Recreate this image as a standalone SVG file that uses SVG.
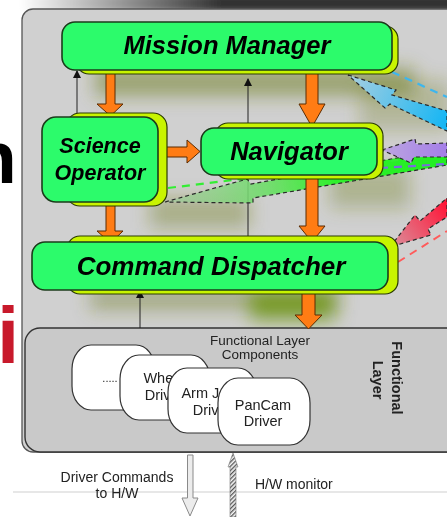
<svg xmlns="http://www.w3.org/2000/svg" width="447" height="517" viewBox="0 0 447 517">
  <style>
    .box{fill:#2cfb6b;stroke:#1b3b1b;stroke-width:1.6}
    .back{fill:#c8f400;stroke:#2a3a00;stroke-width:1.2}
    .lbl{font-family:"Liberation Sans",Arial,sans-serif;font-weight:bold;font-style:italic;fill:#000;text-anchor:middle}
    .flow{fill:#ff7c14;stroke:#5a2a00;stroke-width:1}
    .thin{stroke:#222;stroke-width:1;fill:none}
    .edge{stroke:#2a2a2a;stroke-width:1.2;stroke-dasharray:4 3}
    .card{fill:#fff;stroke:#333;stroke-width:1.2}
    .txt{font-family:"Liberation Sans",Arial,sans-serif;fill:#222}
  </style>
  <defs>
    <marker id="tip" markerWidth="8" markerHeight="8" refX="7" refY="4" orient="auto" markerUnits="userSpaceOnUse">
      <path d="M0,0 L8,4 L0,8 z" fill="#111"/>
    </marker>
    <filter id="haze" x="-50%" y="-50%" width="200%" height="200%">
      <feGaussianBlur stdDeviation="9"/>
    </filter>
    <filter id="soft" x="-20%" y="-50%" width="140%" height="200%">
      <feGaussianBlur stdDeviation="3"/>
    </filter>
    <linearGradient id="topShade" x1="20" y1="0" x2="220" y2="0" gradientUnits="userSpaceOnUse">
      <stop offset="0" stop-color="#ffffff"/>
      <stop offset="1" stop-color="#333333"/>
    </linearGradient>
    <linearGradient id="blueG" x1="348" y1="75" x2="447" y2="120" gradientUnits="userSpaceOnUse">
      <stop offset="0" stop-color="#a9cfe0"/>
      <stop offset="1" stop-color="#16b6f4"/>
    </linearGradient>
    <linearGradient id="purpleG" x1="382" y1="150" x2="447" y2="150" gradientUnits="userSpaceOnUse">
      <stop offset="0" stop-color="#bca6e0"/>
      <stop offset="1" stop-color="#a47ee8"/>
    </linearGradient>
    <linearGradient id="greenG" x1="165" y1="202" x2="447" y2="157" gradientUnits="userSpaceOnUse">
      <stop offset="0" stop-color="#a6c9a0" stop-opacity="0.7"/>
      <stop offset="0.35" stop-color="#6fdc6a" stop-opacity="0.9"/>
      <stop offset="0.6" stop-color="#2ff02c"/>
      <stop offset="1" stop-color="#22ee22"/>
    </linearGradient>
    <linearGradient id="redG" x1="390" y1="247" x2="447" y2="205" gradientUnits="userSpaceOnUse">
      <stop offset="0" stop-color="#d9929e"/>
      <stop offset="1" stop-color="#ff1638"/>
    </linearGradient>
    <pattern id="hatch" width="3" height="3" patternUnits="userSpaceOnUse" patternTransform="rotate(45)">
      <rect width="3" height="3" fill="#f4f4f4"/>
      <rect width="1.3" height="3" fill="#555"/>
    </pattern>
  </defs>

  <rect width="447" height="517" fill="#fff"/>

  <!-- slide lettering left of the panel -->
  <text x="-29" y="183" font-family="Liberation Sans, Arial, sans-serif" font-weight="bold" font-size="75" fill="#000">n</text>
  <text x="-3" y="363" font-family="Liberation Sans, Arial, sans-serif" font-weight="bold" font-size="80" fill="#c8192b">i</text>

  <!-- panel shadow along the top -->
  <rect x="22" y="-6" width="440" height="18" fill="url(#topShade)" filter="url(#soft)"/>

  <!-- outer panel -->
  <rect x="22" y="9" width="460" height="443" rx="11" fill="#d0d0d0" stroke="#555" stroke-width="1.3"/>

  <!-- olive glow under the boxes -->
  <g filter="url(#haze)" fill="#6f7d1e">
    <rect x="95" y="68" width="320" height="28" opacity="0.55"/>
    <rect x="360" y="80" width="90" height="50" opacity="0.3"/>
    <rect x="330" y="168" width="80" height="40" opacity="0.35"/>
    <rect x="150" y="198" width="100" height="30" opacity="0.4"/>
    <rect x="90" y="288" width="250" height="22" opacity="0.45"/>
    <rect x="250" y="290" width="85" height="30" fill="#6a9410" opacity="0.8"/>
  </g>

  <!-- functional layer with driver components -->
  <g id="functional-layer">
    <rect x="25" y="328" width="460" height="124" rx="15" fill="#c9c9c9" stroke="#333" stroke-width="1.4"/>
    <text class="txt" x="260" y="345" font-size="13.5" text-anchor="middle">Functional Layer</text>
    <text class="txt" x="260" y="359" font-size="13.5" text-anchor="middle">Components</text>
    <text class="txt" font-size="14.5" font-weight="bold" fill="#111" text-anchor="middle" transform="translate(392,378) rotate(90)">Functional</text>
    <text class="txt" font-size="14.5" font-weight="bold" fill="#111" text-anchor="middle" transform="translate(373,380) rotate(90)">Layer</text>
    <g id="driver-etc">
      <rect class="card" x="72" y="345" width="83" height="65" rx="19" ry="24"/>
      <text class="txt" x="110" y="382" font-size="11" text-anchor="middle">.....</text>
    </g>
    <g id="driver-wheel">
      <rect class="card" x="120" y="355" width="90" height="65" rx="19" ry="24"/>
      <text class="txt" x="164" y="383" font-size="14.5" text-anchor="middle">Wheel</text>
      <text class="txt" x="164" y="400" font-size="14.5" text-anchor="middle">Driver</text>
    </g>
    <g id="driver-arm">
      <rect class="card" x="168" y="368" width="89" height="65" rx="19" ry="24"/>
      <text class="txt" x="212" y="398" font-size="14.5" text-anchor="middle">Arm Joint</text>
      <text class="txt" x="212" y="415" font-size="14.5" text-anchor="middle">Driver</text>
    </g>
    <g id="driver-pancam">
      <rect class="card" x="218" y="378" width="92" height="67" rx="20" ry="25"/>
      <text class="txt" x="263" y="410" font-size="14.5" text-anchor="middle">PanCam</text>
      <text class="txt" x="263" y="426" font-size="14.5" text-anchor="middle">Driver</text>
    </g>
  </g>

  <!-- rule under the panel -->
  <line x1="13" y1="492" x2="447" y2="492" stroke="#cfcfcf" stroke-width="1"/>
  <text class="txt" x="117" y="482" font-size="14" text-anchor="middle">Driver Commands</text>
  <text class="txt" x="117" y="498" font-size="14" text-anchor="middle">to H/W</text>
  <text class="txt" x="255" y="489" font-size="14">H/W monitor</text>

  <g id="connectors">
    <!-- thin status links -->
    <line class="thin" x1="77" y1="118" x2="77" y2="71" marker-end="url(#tip)"/>
    <line class="thin" x1="248" y1="242" x2="248" y2="79" marker-end="url(#tip)"/>
    <line class="thin" x1="140" y1="328" x2="140" y2="291" marker-end="url(#tip)"/>

    <!-- external links entering from the right -->
    <line x1="392" y1="72" x2="447" y2="97" stroke="#3db6ee" stroke-width="2.2" stroke-dasharray="8 6"/>
    <polygon points="348,75 396,90 392,95 447,111 447,131 390,104 385,108" fill="url(#blueG)" class="edge"/>

    <polygon points="165,202 247,179 251,184 447,149 447,165 253,198 253,203" fill="url(#greenG)" class="edge"/>
    <line x1="168" y1="188" x2="447" y2="154" stroke="#33ee33" stroke-width="2.2" stroke-dasharray="8 6"/>

    <polygon points="382,150 415,139 416,144 447,143 447,157 414,157 411,163" fill="url(#purpleG)" class="edge"/>
    <line x1="380" y1="168" x2="447" y2="164" stroke="#7a6ae0" stroke-width="2.2" stroke-dasharray="8 6"/>

    <polygon points="390,247 415,215 420,221 447,198 447,217 428,229 431,235" fill="url(#redG)" class="edge"/>
    <line x1="398" y1="262" x2="447" y2="231" stroke="#ff5a5a" stroke-width="2" stroke-dasharray="8 6"/>

    <!-- command flow -->
    <polygon class="flow" points="106,70 115,70 115,104 123,104 110.5,116 97,104 106,104"/>
    <polygon class="flow" points="306,70 318,70 318,104 325,104 312,127 299,104 306,104"/>
    <polygon class="flow" points="158,147 187,147 187,140 200,151.5 187,163 187,157 158,157"/>
    <polygon class="flow" points="106,203 115,203 115,231 123,231 110.5,243 97,231 106,231"/>
    <polygon class="flow" points="306,175 318,175 318,226 325,226 312,242 299,226 306,226"/>
    <polygon class="flow" points="302,292 315,292 315,315 322,315 308.5,329 295,315 302,315"/>

    <!-- hardware links -->
    <path d="M187.5,455 L193,455 L193,498 L198,498 L190,516 L182,498 L187.5,498 z" fill="#ececec" stroke="#8a8a8a" stroke-width="1"/>
    <path d="M230,517 L230,467 L228,467 L233,453 L238,467 L236,467 L236,517 z" fill="url(#hatch)" stroke="#777" stroke-width="0.6"/>
  </g>

  <g id="mission-manager">
    <rect class="back" x="76" y="26" width="322" height="48" rx="13"/>
    <rect class="box" x="62" y="22" width="330" height="48" rx="13"/>
    <text class="lbl" x="227" y="54" font-size="25.5">Mission Manager</text>
  </g>

  <g id="science-operator">
    <rect class="back" x="66" y="113" width="101" height="93" rx="14"/>
    <rect class="box" x="42" y="117" width="116" height="85" rx="14"/>
    <text class="lbl" x="100" y="153" font-size="21.5">Science</text>
    <text class="lbl" x="100" y="180" font-size="21.5">Operator</text>
  </g>

  <g id="navigator">
    <rect class="back" x="215" y="123" width="168" height="56" rx="13"/>
    <rect class="box" x="201" y="128" width="176" height="47" rx="13"/>
    <text class="lbl" x="289" y="160" font-size="25.5">Navigator</text>
  </g>

  <g id="command-dispatcher">
    <rect class="back" x="67" y="236" width="331" height="58" rx="13"/>
    <rect class="box" x="32" y="242" width="356" height="48" rx="13"/>
    <text class="lbl" x="211" y="275" font-size="26">Command Dispatcher</text>
  </g>
</svg>
